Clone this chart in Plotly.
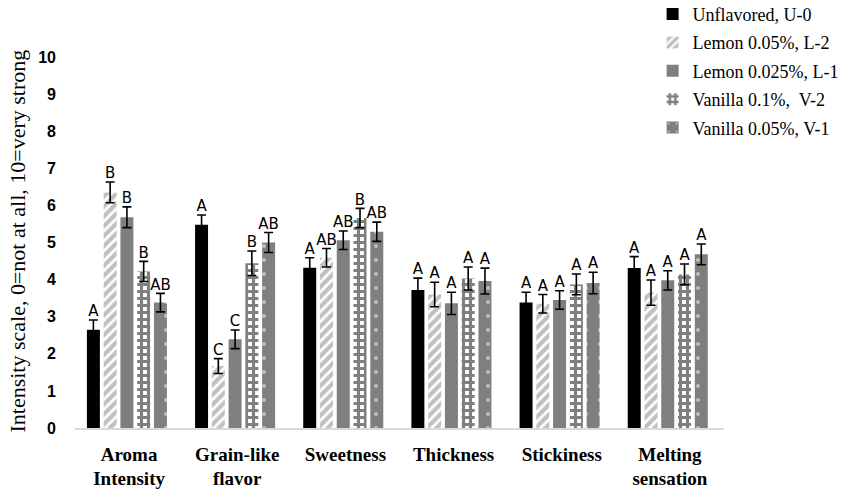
import plotly.graph_objects as go

categories = ["Aroma<br>Intensity", "Grain-like<br>flavor", "Sweetness", "Thickness", "Stickiness", "Melting<br>sensation"]
series_names = ["Unflavored, U-0", "Lemon 0.05%, L-2", "Lemon 0.025%, L-1", "Vanilla 0.1%,  V-2", "Vanilla 0.05%, V-1"]

u0 = [2.65, 5.48, 4.32, 3.72, 3.38, 4.31]
l2 = [6.35, 1.67, 4.59, 3.60, 3.35, 3.65]
l1 = [5.68, 2.39, 5.06, 3.36, 3.45, 3.98]
v2 = [4.22, 4.44, 5.66, 4.03, 3.87, 4.14]
v1 = [3.38, 5.00, 5.29, 3.96, 3.91, 4.68]

u0_err = [0.26, 0.26, 0.27, 0.32, 0.28, 0.31]
l2_err = [0.28, 0.20, 0.25, 0.33, 0.25, 0.34]
l1_err = [0.28, 0.25, 0.25, 0.30, 0.25, 0.26]
v2_err = [0.27, 0.33, 0.26, 0.31, 0.28, 0.28]
v1_err = [0.25, 0.27, 0.26, 0.35, 0.29, 0.28]

u0_letters = ["A", "A", "A", "A", "A", "A"]
l2_letters = ["B", "C", "AB", "A", "A", "A"]
l1_letters = ["B", "C", "AB", "A", "A", "A"]
v2_letters = ["B", "B", "B", "A", "A", "A"]
v1_letters = ["AB", "AB", "AB", "A", "A", "A"]

values = [u0, l2, l1, v2, v1]
errors = [u0_err, l2_err, l1_err, v2_err, v1_err]
letters = [u0_letters, l2_letters, l1_letters, v2_letters, v1_letters]

GRAY = "#7f7f7f"
styles = [
    dict(color="black"),
    dict(color="white", pattern=dict(shape="/", fgcolor=GRAY, bgcolor="white", size=7, solidity=0.6)),
    dict(color=GRAY),
    dict(color="white", pattern=dict(shape="+", fgcolor="black", bgcolor="white", size=7, solidity=0.7)),
    dict(color=GRAY, pattern=dict(shape=".", fgcolor="white", bgcolor=GRAY, size=14, solidity=0.06)),
]

slot = 0.155
bar_w = 0.12
fig = go.Figure()
for j, (name, vals, errs, st) in enumerate(zip(series_names, values, errors, styles)):
    xs = [i + (j - 2) * slot - 0.02 for i in range(len(categories))]
    fig.add_trace(go.Bar(
        x=xs, y=vals, width=bar_w, name=name, legendgroup=name,
        marker=dict(line=dict(width=0), **st),
        error_y=dict(type="data", array=errs, visible=True, color="black", thickness=1.6, width=4.5),
    ))
for j, (vals, errs, labs) in enumerate(zip(values, errors, letters)):
    xs = [i + (j - 2) * slot - 0.02 for i in range(len(categories))]
    fig.add_trace(go.Scatter(
        x=xs, y=[v + e for v, e in zip(vals, errs)], text=labs, mode="text",
        textposition="top center", showlegend=False, hoverinfo="skip",
        textfont=dict(family="DejaVu Sans", size=15, color="black"),
    ))

fig.add_annotation(
    text="Intensity scale, 0=not at all, 10=very strong", textangle=-90,
    xref="paper", yref="paper", x=-0.088, y=0.505, xanchor="center", yanchor="middle",
    showarrow=False, font=dict(family="Liberation Serif", size=22, color="black"),
)

fig.update_layout(
    width=849, height=493,
    margin=dict(l=75, r=125, t=57, b=65, autoexpand=False),
    paper_bgcolor="white", plot_bgcolor="white",
    barmode="overlay",
    showlegend=True,
    legend=dict(x=0.89, xanchor="left", y=1.165, yanchor="top",
                font=dict(family="Liberation Serif", size=18, color="black"),
                tracegroupgap=2, bgcolor="rgba(0,0,0,0)"),
    xaxis=dict(range=[-0.5, 5.5], tickmode="array", tickvals=list(range(len(categories))),
               ticktext=["<b>" + c.replace("<br>", "</b><br><b>") + "</b>" for c in categories],
               showgrid=False, zeroline=False, showline=True, linecolor="#d9d9d9", linewidth=1.5,
               ticks="", ticklabelstandoff=8,
               tickfont=dict(family="Liberation Serif", size=19, color="black")),
    yaxis=dict(range=[0, 10], tickmode="array", tickvals=list(range(11)),
               showgrid=False, zeroline=False, showline=False, ticks="",
               ticklabelstandoff=18,
               tickfont=dict(family="Liberation Sans", size=16, color="black", weight="bold")),
)

fig.write_html("out.html")
